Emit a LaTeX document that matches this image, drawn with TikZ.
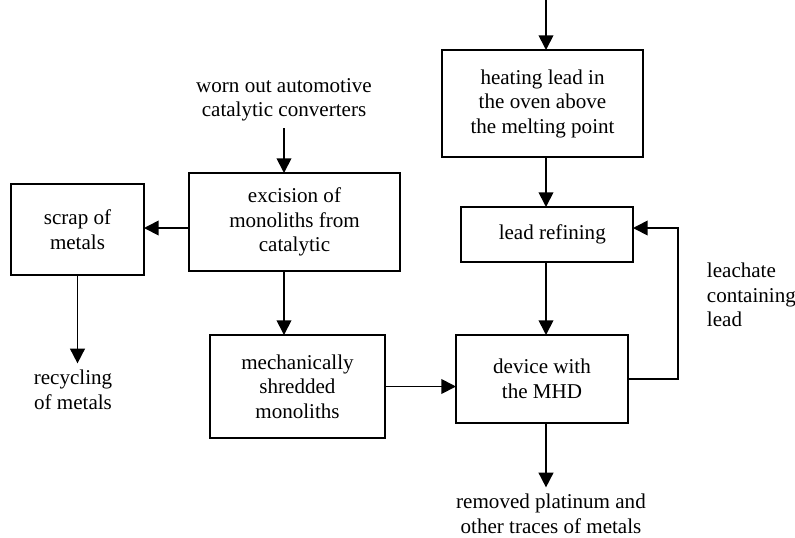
\documentclass[tikz,border=0pt]{standalone}
\usepackage{fontspec}
\setmainfont{Liberation Serif}
\usetikzlibrary{arrows.meta}

\tikzset{
    box/.style={draw, line width=1.3pt, align=center, inner sep=0pt, outer sep=0pt},
    txt/.style={align=center, inner sep=5pt},
    arr/.style={line width=1.3pt, -{Triangle[length=11pt, width=11pt]}}
}

\begin{document}
\begin{tikzpicture}[x=0.75pt, y=-0.75pt, font=\fontsize{15.8pt}{18.4pt}\selectfont]
    \useasboundingbox (0,0) rectangle (795,537);

    \coordinate (in) at (546,0);
    \coordinate (loop) at (678,228);

    \node[box, minimum width=150.75pt, minimum height=80.25pt] at (542.5,103.5) (heat) {heating lead in\\the oven above\\the melting point};
    \node[box, minimum width=129pt, minimum height=41.25pt]   at (547,234.5)   (refine) {\ \ lead refining};
    \node[box, minimum width=129pt, minimum height=66pt]      at (542,379)     (dev) {device with\\the MHD};
    \node[box, minimum width=158.25pt, minimum height=73.5pt] at (294.5,222)   (exc) {excision of\\monoliths from\\catalytic};
    \node[box, minimum width=99.75pt, minimum height=68.25pt] at (77.5,229.5)  (scrap) {scrap of\\metals};
    \node[box, minimum width=131.25pt, minimum height=77.25pt] at (297.5,386.5) (shred) {mechanically\\shredded\\monoliths};

    \node[txt] at (284,100)  (inp) {worn out automotive\\catalytic converters};
    \node[txt] at (73,390)   (rec) {recycling\\of metals};
    \node[txt] at (551,514)  (out) {removed platinum and\\other traces of metals};
    \node[txt, align=left, anchor=west] at (700,295) (leach) {leachate\\containing\\lead};

    \draw[arr] (in) -- (in |- heat.north);
    \draw[arr] (in |- heat.south) -- (in |- refine.north);
    \draw[arr] (in |- refine.south) -- (in |- dev.north);
    \draw[arr] (in |- dev.south) -- (in |- out.north);
    \draw[arr] (dev.east) -| (loop) -- (loop -| refine.east);

    \draw[arr] (inp.south) -- (inp.south |- exc.north);
    \draw[arr] (inp.south |- exc.south) -- (inp.south |- shred.north);
    \draw[arr] ([yshift=-4.5pt]exc.west) -- ([yshift=-4.5pt]exc.west -| scrap.east);
    \draw[arr] (scrap.south) -- (scrap.south |- rec.north);
    \draw[arr] (shred.east) -- (shred.east -| dev.west);
\end{tikzpicture}
\end{document}
